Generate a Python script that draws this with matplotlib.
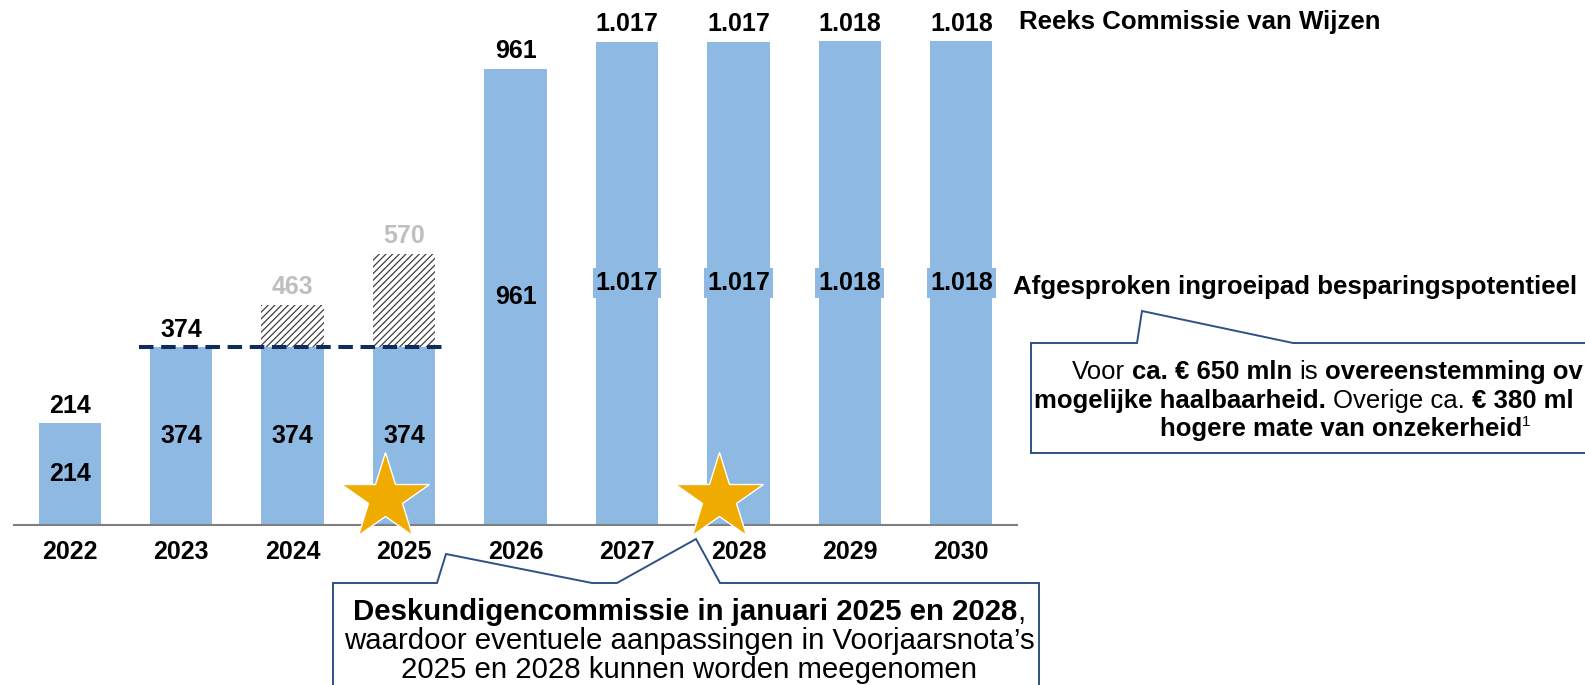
import matplotlib
matplotlib.use("Agg")
import matplotlib.pyplot as plt
from matplotlib.patches import Polygon
from matplotlib.transforms import Affine2D

plt.rcParams['font.family'] = ['Liberation Sans', 'DejaVu Sans']
plt.rcParams['hatch.linewidth'] = 0.9

# ---------------- data ----------------
years = ['2022', '2023', '2024', '2025', '2026', '2027', '2028', '2029', '2030']
savings = [214, 374, 374, 374, 961, 1017, 1017, 1018, 1018]      # afgesproken ingroeipad
hatched_years = ['2024', '2025']
hatched_totals = [463, 570]                                      # eerdere reeks (grijs)
dashed_level = 374
dashed_years = ['2023', '2025']
star_years = ['2025', '2028']
label_reeks = 'Reeks Commissie van Wijzen'
label_pad = 'Afgesproken ingroeipad besparingspotentieel'

BLUE = '#8DB9E3'
NAVY = '#0F2D5C'
CALLOUT = '#2E5283'
STAR = '#F0AB00'
GREY_LBL = '#BFBFBF'

W, H = 1585, 685
fig = plt.figure(figsize=(W / 100, H / 100), dpi=100)
base_px = 525
px_per_unit = 0.475
ax = fig.add_axes([14 / W, (H - base_px) / H, (1017 - 14) / W, base_px / H])
ax.set_xlim(-0.5, len(years) - 0.5)
ax.set_ylim(0, base_px / px_per_unit)
for s in ax.spines.values():
    s.set_visible(False)
ax.set_yticks([])

x = list(range(len(years)))
bw = 0.56
ax.bar(x, savings, width=bw, color=BLUE, zorder=2)

# hatched extra segments
hx = [years.index(y) for y in hatched_years]
hb = [savings[i] for i in hx]
ax.bar(hx, [t - b for t, b in zip(hatched_totals, hb)], bottom=hb, width=bw,
       color='white', edgecolor='#404040', hatch='/////', linewidth=0, zorder=2)

# baseline
ax.axhline(0, color='#7F7F7F', lw=1.5, clip_on=False, zorder=3)

# dashed line
d0, d1 = years.index(dashed_years[0]), years.index(dashed_years[1])
ax.plot([d0 - 0.38, d1 + 0.37], [dashed_level, dashed_level], color=NAVY, lw=2.9,
        dashes=(3.6, 1.9), zorder=4, solid_capstyle='butt', dash_capstyle='butt')

# x tick labels
ax.set_xticks(x)
ax.set_xticklabels(years, fontsize=18, fontweight='bold')
ax.tick_params(axis='x', length=0, pad=10.5)


def fmt(v):
    return f"{v:,}".replace(',', '.')


# top labels
top_vals = list(savings)
top_cols = ['black'] * len(years)
for y, t in zip(hatched_years, hatched_totals):
    top_vals[years.index(y)] = t
    top_cols[years.index(y)] = GREY_LBL
for i, (v, c) in enumerate(zip(top_vals, top_cols)):
    ax.annotate(fmt(v), xy=(i, v), xytext=(0, 12.8), textcoords='offset points',
                ha='center', va='center', fontsize=18, fontweight='bold', color=c, zorder=5)

# inside labels
for i, v in enumerate(savings):
    ax.text(i, v / 2, fmt(v), ha='center', va='center', fontsize=18, fontweight='bold',
            zorder=5, bbox=dict(boxstyle='square,pad=0.12', fc=BLUE, ec='none'))

# series labels on the right
last = len(years) - 1
ax.annotate(label_reeks, xy=(last, savings[last]), xytext=(41.8, 13.7), textcoords='offset points',
            ha='left', va='center', fontsize=18.6, fontweight='bold', annotation_clip=False)
ax.annotate(label_pad, xy=(last, savings[last] / 2), xytext=(37.4, -2.5), textcoords='offset points',
            ha='left', va='center', fontsize=18.6, fontweight='bold', annotation_clip=False)

# stars
for y in star_years:
    ax.plot(years.index(y) - 0.17, 56, marker='*', ms=66, color=STAR, mec='white', mew=1.0,
            clip_on=False, zorder=6)

# ---------------- callouts ----------------
px_tr = Affine2D().scale(1, -1).translate(0, H)

right_box = [(1031, 453), (1031, 343), (1137, 343), (1142, 311), (1293, 343),
             (1650, 343), (1650, 453)]
bottom_box = [(333, 720), (333, 583), (437, 583), (446, 554), (592, 583), (617, 583),
              (696, 539), (720, 583), (1039, 583), (1039, 720)]
for pts in (right_box, bottom_box):
    fig.patches.append(Polygon(pts, closed=True, fc='white', ec=CALLOUT, lw=1.4,
                               transform=px_tr, figure=fig, zorder=1))

renderer = fig.canvas.get_renderer()


def measure(s, size, weight):
    t = fig.text(0, 0, s, fontsize=size, fontweight=weight)
    w = t.get_window_extent(renderer).width
    t.remove()
    return w


def rich_line(x_px, base_px_y, pieces, size, align='left'):
    items, total = [], 0.0
    for piece in pieces:
        text, weight = piece[0], piece[1]
        rel = piece[2] if len(piece) > 2 else 1.0
        dy = piece[3] if len(piece) > 3 else 0.0
        s = size * rel
        sw = measure('n n', s, weight) - measure('nn', s, weight)
        lead = len(text) - len(text.lstrip(' '))
        trail = len(text) - len(text.rstrip(' '))
        core = text.strip(' ')
        total += lead * sw
        items.append((total, core, weight, s, dy))
        total += measure(core, s, weight) + trail * sw
    if align == 'center':
        x0 = x_px - total / 2
    elif align == 'right':
        x0 = x_px - total
    else:
        x0 = x_px
    for off, core, weight, s, dy in items:
        fig.text((x0 + off) / W, 1 - (base_px_y - dy) / H, core, fontsize=s,
                 fontweight=weight, ha='left', va='baseline', zorder=3)


# right callout (cut off by the picture edge, as in the original)
RS = 18.5
rich_line(1583, 379, [("Voor ", 'normal'), ("ca. € 650 mln", 'bold'), (" is ", 'normal'),
                      ("overeenstemming ov", 'bold')], RS, align='right')
rich_line(1034, 408, [("mogelijke haalbaarheid.", 'bold'), (" Overige ca. ", 'normal'),
                      ("€ 380 ml", 'bold')], RS)
rich_line(1160, 436, [("hogere mate van onzekerheid", 'bold'), ("1", 'normal', 0.6, 10)], RS)

BS = 21.2
rich_line(689, 620, [("Deskundigencommissie in januari 2025 en 2028", 'bold'), (",", 'normal')],
          BS, align='center')
rich_line(689, 649, [("waardoor eventuele aanpassingen in Voorjaarsnota’s", 'normal')], BS, align='center')
rich_line(689, 678, [("2025 en 2028 kunnen worden meegenomen", 'normal')], BS, align='center')

fig.savefig('out.png', dpi=100)
